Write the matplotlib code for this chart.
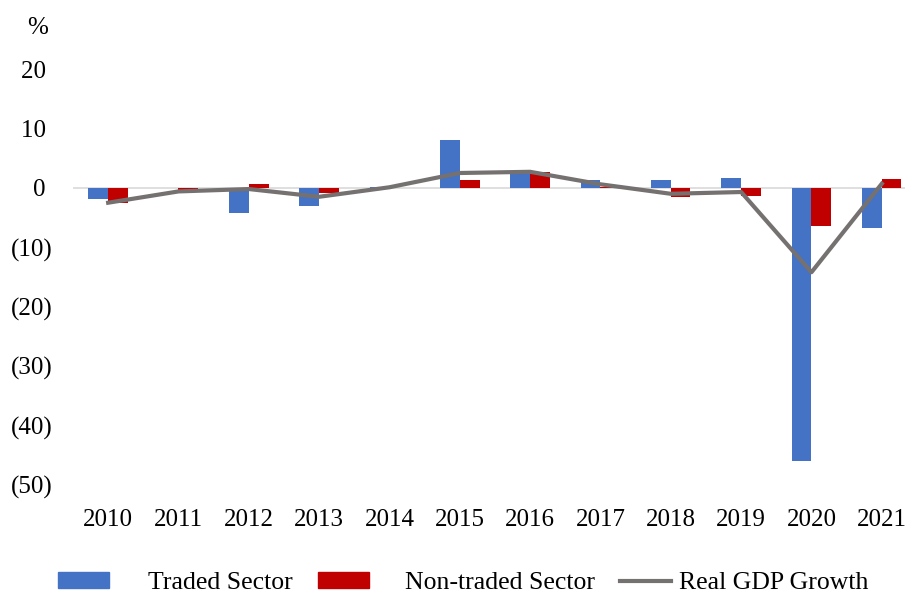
import matplotlib.pyplot as plt
import matplotlib.ticker as mticker
import numpy as np
from matplotlib.patches import Patch
from matplotlib.lines import Line2D

plt.rcParams['font.family'] = ['Liberation Serif', 'DejaVu Serif']

years = ['2010', '2011', '2012', '2013', '2014', '2015', '2016', '2017', '2018', '2019', '2020', '2021']
traded = [-1.9, -0.1, -4.2, -3.1, 0.2, 8.1, 2.5, 1.4, 1.3, 1.6, -45.9, -6.7]
non_traded = [-2.6, -0.3, 0.6, -0.9, 0.0, 1.3, 2.7, 0.1, -1.6, -1.3, -6.4, 1.5]
gdp = [-2.5, -0.6, -0.2, -1.5, 0.1, 2.5, 2.7, 0.6, -1.0, -0.7, -14.2, 0.7]

blue = '#4472C4'
red = '#C00000'
grey = '#767171'

fig = plt.figure(figsize=(9.05, 5.94), dpi=100)
ax = fig.add_axes([73/905, 1-485/594, 832/905, 416/594])

x = np.arange(len(years))
w = 0.28
ax.bar(x - w/2, traded, width=w, color=blue, zorder=2)
ax.bar(x + w/2, non_traded, width=w, color=red, zorder=2)
ax.axhline(0, color='#D9D9D9', lw=1.2, zorder=1)
ax.plot(x, gdp, color=grey, lw=3, zorder=3)

ax.set_xlim(-0.5, 11.33)
ax.set_ylim(-50, 20)
ax.set_yticks(np.arange(-50, 21, 10))
# accounting style: positives padded where the ")" would be
ax.yaxis.set_major_formatter(mticker.FuncFormatter(
    lambda v, p: '0\u2008' if v == 0 else ('(%d)' % abs(v) if v < 0 else '%d\u2008' % v)))
ax.set_xticks(x)
ax.set_xticklabels(years)
ax.tick_params(axis='x', length=0, pad=17, labelsize=18)
ax.tick_params(axis='y', length=0, pad=15, labelsize=18)
for s in ax.spines.values():
    s.set_visible(False)

fig.text(38/905, 1-28/594, '%', fontsize=18, ha='center', va='center')

leg_kw = dict(frameon=False, fontsize=18.5, loc='center left', borderaxespad=0, borderpad=0)
fig.legend(handles=[Patch(color=blue, label='Traded Sector')],
           bbox_to_anchor=(58/905, 1-583/594), handlelength=2.0, handleheight=0.6,
           handletextpad=1.5, **leg_kw)
fig.legend(handles=[Patch(color=red, label='Non-traded Sector')],
           bbox_to_anchor=(318/905, 1-583/594), handlelength=2.0, handleheight=0.6,
           handletextpad=1.4, **leg_kw)
fig.legend(handles=[Line2D([], [], color=grey, lw=3, label='Real GDP Growth')],
           bbox_to_anchor=(620/905, 1-583/594), handlelength=2.0,
           handletextpad=0.3, **leg_kw)

fig.savefig('out.png', dpi=100)
